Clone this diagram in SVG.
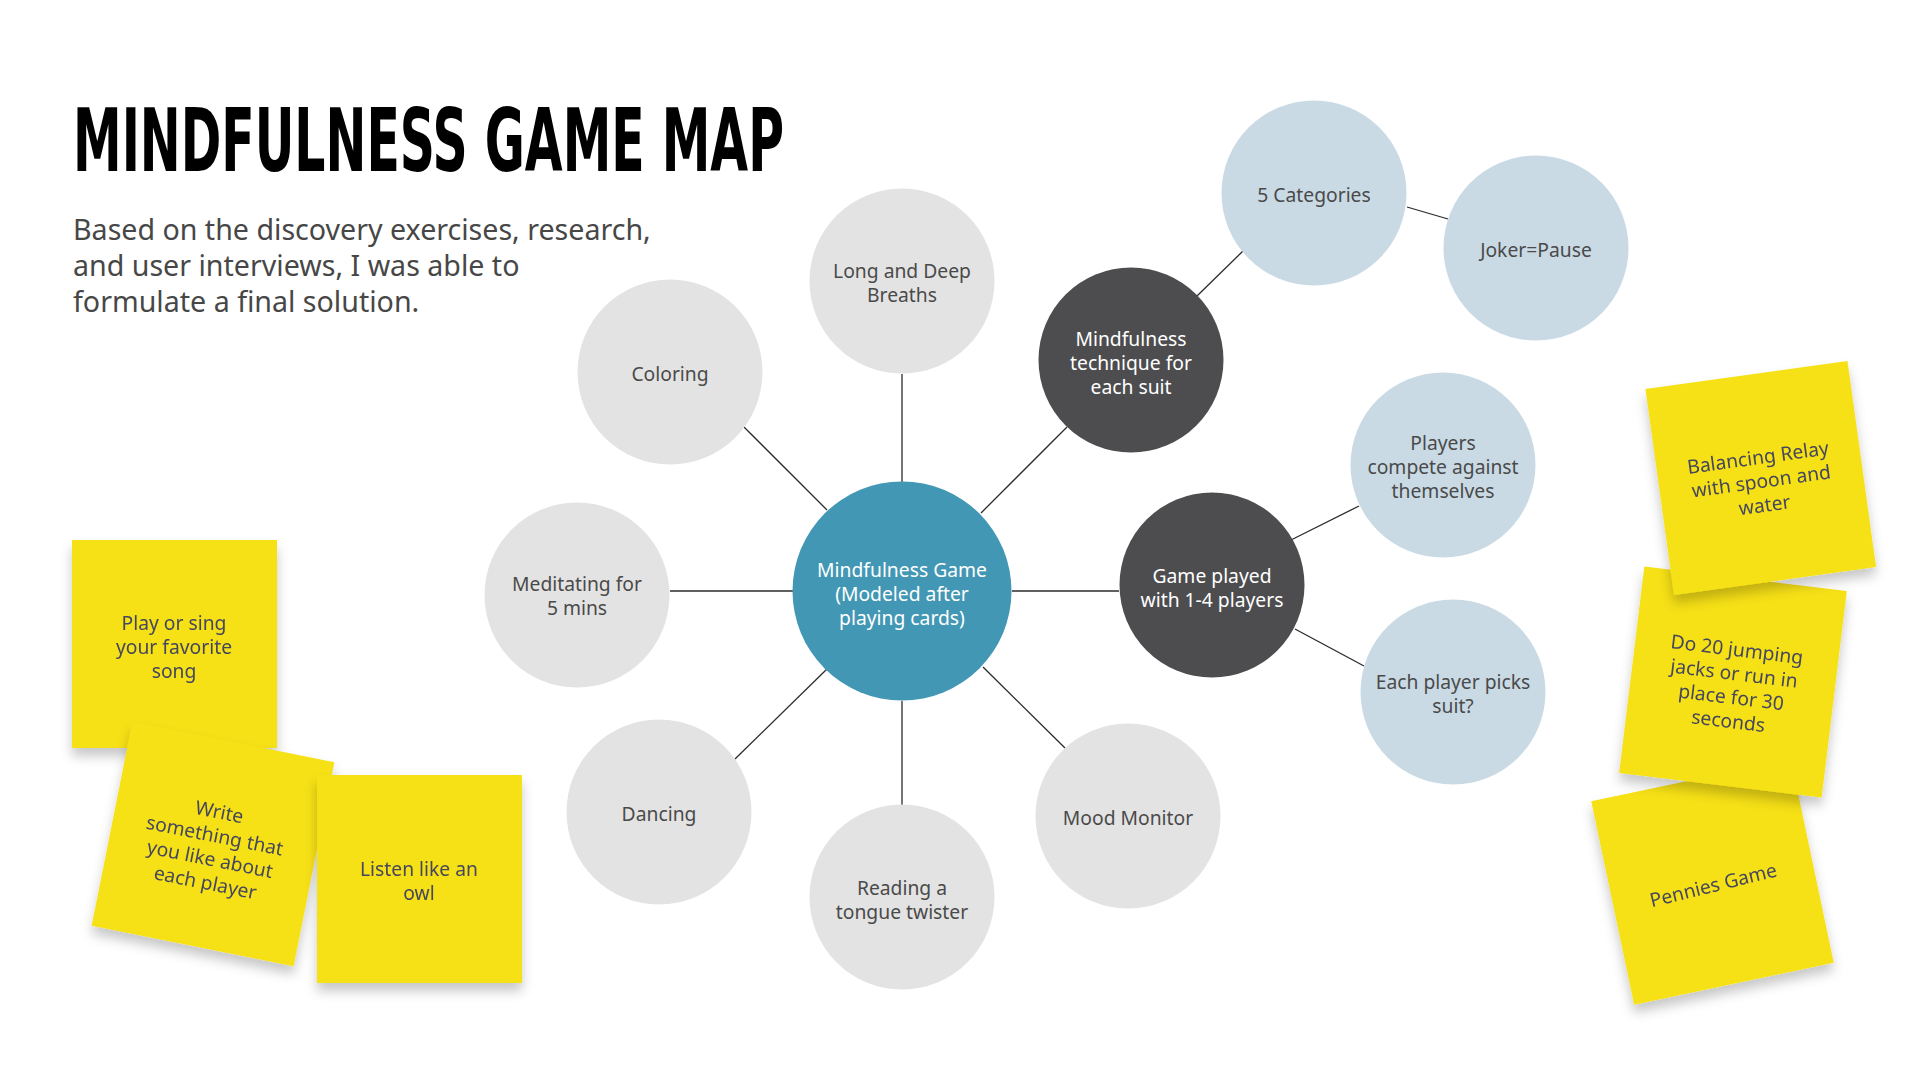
<svg xmlns="http://www.w3.org/2000/svg" width="1920" height="1080" viewBox="0 0 1920 1080">
<defs>
<style>
.t{font-family:"Noto Sans","Liberation Sans",sans-serif;font-size:19.3px;text-anchor:middle}
.g{fill:#4a4a4a}
.w{fill:#ffffff}
.s{fill:#45475c}
.cg{fill:#e3e3e3}
.cb{fill:#c9dae5}
.cd{fill:#4d4d4f}
.cc{fill:#4297b5}
.note{fill:#f6e018}
.ln{stroke:#2b2b2b;stroke-width:1.3;fill:none}
</style>
<filter id="sh" x="-30%" y="-30%" width="160%" height="170%">
<feDropShadow dx="0" dy="8" stdDeviation="6" flood-color="#000" flood-opacity="0.22"/>
</filter>
</defs>
<rect width="1920" height="1080" fill="#ffffff"/>

<text x="73" y="171" font-family="'Liberation Sans Narrow','DejaVu Sans Condensed','Liberation Sans',sans-serif" font-stretch="condensed" font-weight="bold" font-size="88" fill="#000" textLength="711" lengthAdjust="spacingAndGlyphs">MINDFULNESS GAME MAP</text>
<g font-family="'Noto Sans','Liberation Sans',sans-serif" font-size="28.6" fill="#474747">
<text x="73" y="240">Based on the discovery exercises, research,</text>
<text x="73" y="276">and user interviews, I was able to</text>
<text x="73" y="312">formulate a final solution.</text>
</g>

<g id="connectors">
<line class="ln" x1="902" y1="374" x2="902" y2="482"/>
<line class="ln" x1="744" y1="427" x2="827" y2="510"/>
<line class="ln" x1="670" y1="591" x2="793" y2="591"/>
<line class="ln" x1="735" y1="759" x2="828" y2="668"/>
<line class="ln" x1="902" y1="701" x2="902" y2="806"/>
<line class="ln" x1="983" y1="667" x2="1065" y2="748"/>
<line class="ln" x1="981" y1="513" x2="1067" y2="427"/>
<line class="ln" x1="1012" y1="591" x2="1119" y2="591"/>
<line class="ln" x1="1197" y1="296" x2="1243" y2="251"/>
<line class="ln" x1="1407" y1="207" x2="1448" y2="219"/>
<line class="ln" x1="1291" y1="540" x2="1359" y2="506"/>
<line class="ln" x1="1295" y1="629" x2="1364" y2="666"/>
</g>

<g id="n-center"><circle class="cc" cx="902" cy="591" r="109.5"/>
<text class="t w" x="902" y="577">Mindfulness Game</text><text class="t w" x="902" y="601">(Modeled after</text><text class="t w" x="902" y="625">playing cards)</text></g>
<g id="n-breaths"><circle class="cg" cx="902" cy="281" r="92.5"/>
<text class="t g" x="902" y="278">Long and Deep</text><text class="t g" x="902" y="302">Breaths</text></g>
<g id="n-coloring"><circle class="cg" cx="670" cy="372" r="92.5"/>
<text class="t g" x="670" y="381">Coloring</text></g>
<g id="n-meditating"><circle class="cg" cx="577" cy="595" r="92.5"/>
<text class="t g" x="577" y="591">Meditating for</text><text class="t g" x="577" y="615">5 mins</text></g>
<g id="n-dancing"><circle class="cg" cx="659" cy="812" r="92.5"/>
<text class="t g" x="659" y="821">Dancing</text></g>
<g id="n-reading"><circle class="cg" cx="902" cy="897" r="92.5"/>
<text class="t g" x="902" y="895">Reading a</text><text class="t g" x="902" y="919">tongue twister</text></g>
<g id="n-mood"><circle class="cg" cx="1128" cy="816" r="92.5"/>
<text class="t g" x="1128" y="825">Mood Monitor</text></g>
<g id="n-technique"><circle class="cd" cx="1131" cy="360" r="92.5"/>
<text class="t w" x="1131" y="346">Mindfulness</text><text class="t w" x="1131" y="370">technique for</text><text class="t w" x="1131" y="394">each suit</text></g>
<g id="n-players"><circle class="cd" cx="1212" cy="585" r="92.5"/>
<text class="t w" x="1212" y="583">Game played</text><text class="t w" x="1212" y="607">with 1-4 players</text></g>
<g id="n-categories"><circle class="cb" cx="1314" cy="193" r="92.5"/>
<text class="t g" x="1314" y="202">5 Categories</text></g>
<g id="n-joker"><circle class="cb" cx="1536" cy="248" r="92.5"/>
<text class="t g" x="1536" y="257">Joker=Pause</text></g>
<g id="n-compete"><circle class="cb" cx="1443" cy="465" r="92.5"/>
<text class="t g" x="1443" y="450">Players</text><text class="t g" x="1443" y="474">compete against</text><text class="t g" x="1443" y="498">themselves</text></g>
<g id="n-picks"><circle class="cb" cx="1453" cy="692" r="92.5"/>
<text class="t g" x="1453" y="689">Each player picks</text><text class="t g" x="1453" y="713">suit?</text></g>

<g id="note-sing" filter="url(#sh)"><rect class="note" x="72" y="540" width="205" height="208"/>
<text class="t s" x="174" y="630">Play or sing</text><text class="t s" x="174" y="654">your favorite</text><text class="t s" x="174" y="678">song</text></g>
<g id="note-write" filter="url(#sh)"><g transform="translate(213 844) rotate(11.3)"><rect class="note" x="-103" y="-104" width="206" height="208"/>
<text class="t s" x="0" y="-26">Write</text><text class="t s" x="0" y="-2">something that</text><text class="t s" x="0" y="22">you like about</text><text class="t s" x="0" y="46">each player</text></g></g>
<g id="note-owl" filter="url(#sh)"><rect class="note" x="317" y="775" width="205" height="208"/>
<text class="t s" x="419" y="876">Listen like an</text><text class="t s" x="419" y="900">owl</text></g>

<g id="note-pennies" filter="url(#sh)"><g transform="translate(1712.5 882) rotate(-11.9)"><rect class="note" x="-102" y="-104" width="204" height="208"/>
<text class="t s" x="0" y="10" transform="rotate(-2)">Pennies Game</text></g></g>
<g id="note-jumping" filter="url(#sh)"><g transform="translate(1733 682) rotate(6.95)"><rect class="note" x="-102" y="-104" width="204" height="208"/>
<text class="t s" x="0" y="-26">Do 20 jumping</text><text class="t s" x="0" y="-2">jacks or run in</text><text class="t s" x="0" y="22">place for 30</text><text class="t s" x="0" y="46">seconds</text></g></g>
<g id="note-relay" filter="url(#sh)"><g transform="translate(1760.75 478) rotate(-7.9)"><rect class="note" x="-102" y="-104" width="204" height="208"/>
<text class="t s" x="0" y="-14">Balancing Relay</text><text class="t s" x="0" y="10">with spoon and</text><text class="t s" x="0" y="34">water</text></g></g>
</svg>
